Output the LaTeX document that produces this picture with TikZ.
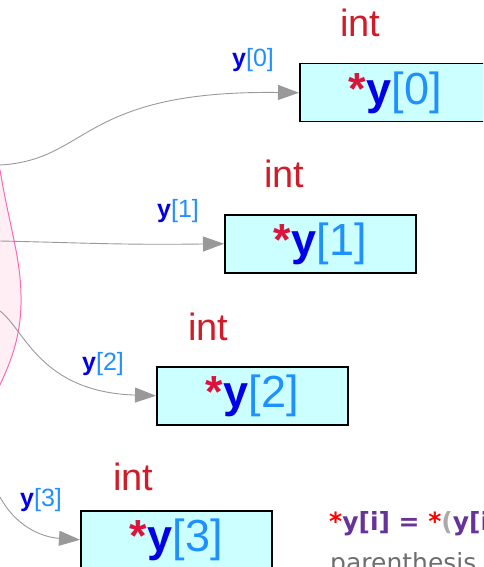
\documentclass[tikz,border=0pt]{standalone}
\usepackage{fontspec}
\setmainfont{Liberation Sans}
\newfontfamily\notefont{DejaVu Sans}
\usepackage{xcolor}
\usetikzlibrary{positioning, arrows.meta}

\definecolor{typered}{RGB}{208,28,40}
\definecolor{starred}{RGB}{220,20,60}
\definecolor{ptrblue}{RGB}{0,0,230}
\definecolor{idxblue}{RGB}{30,144,255}
\definecolor{cellfill}{RGB}{204,255,255}
\definecolor{linkgray}{RGB}{153,153,153}
\definecolor{blobline}{RGB}{255,105,180}
\definecolor{blobfill}{RGB}{255,238,244}
\definecolor{notepurple}{RGB}{102,51,153}
\definecolor{noteparen}{RGB}{170,170,170}
\definecolor{notegray}{RGB}{110,110,110}

\newcommand{\elemname}[1]{\textbf{\textcolor{ptrblue}{y}}\textcolor{idxblue}{[#1]}}
\newcommand{\derefname}[1]{\textbf{\textcolor{starred}{*}}\elemname{#1}}

\begin{document}
\begin{tikzpicture}[
      x=1pt, y=-1pt,
      cell/.style={draw=black, line width=1.5pt, fill=cellfill, anchor=north west, inner sep=0pt,
        minimum width=191pt, minimum height=58pt, font=\fontsize{45}{50}\selectfont},
      typelabel/.style={anchor=base west, inner sep=0pt, text=typered, font=\fontsize{38}{42}\selectfont},
      ptrlabel/.style={anchor=base west, inner sep=0pt, font=\fontsize{25}{28}\selectfont},
      link/.style={draw=linkgray, line width=0.9pt, -{Triangle[length=21pt, width=15pt, fill=linkgray]}}
    ]
    \useasboundingbox (0,0) rectangle (483,567);
    \clip (0,0) rectangle (483,567);

    % pointer array blob on the left
    \fill[blobfill] (-40,150) -- (0,170) .. controls (10,230) and (22,260) .. (21,305)
      .. controls (20,340) and (10,365) .. (-5,395) -- (-40,400) -- cycle;
    \draw[blobline, line width=1pt] (0,170) .. controls (10,230) and (22,260) .. (21,305)
      .. controls (20,340) and (10,365) .. (-5,395);

    % the int cells
    \node[cell] (cell0) at (299,63) {\derefname{0}};
    \node[cell] (cell1) at (224,214) {\derefname{1}};
    \node[cell] (cell2) at (156,366) {\derefname{2}};
    \node[cell] (cell3) at (80,510) {\derefname{3}};

    \node[typelabel] (type0) at (340,37) {int};
    \node[typelabel] (type1) at (264,187) {int};
    \node[typelabel] (type2) at (188,340) {int};
    \node[typelabel] (type3) at (113,490) {int};

    % pointers leaving the array
    \coordinate (src0) at (0,165);
    \coordinate (src1) at (0,241);
    \coordinate (src2) at (0,311);
    \coordinate (src3) at (0,497);

    \draw[link] (src0) .. controls (90,160) and (80,90) .. (cell0.west);
    \draw[link] (src1) .. controls (90,243) and (120,245) .. (cell1.west);
    \draw[link] (src2) .. controls (25,330) and (40,392) .. (cell2.west);
    \draw[link] (src3) .. controls (15,525) and (40,537) .. (cell3.west);

    \node[ptrlabel] (ptr0) at (232,66.5) {\elemname{0}};
    \node[ptrlabel] (ptr1) at (157,217.5) {\elemname{1}};
    \node[ptrlabel] (ptr2) at (82,370) {\elemname{2}};
    \node[ptrlabel] (ptr3) at (20,506) {\elemname{3}};

    % note on the dereference
    \node[anchor=base west, inner sep=0pt, font=\notefont\bfseries\fontsize{25}{28}\selectfont] (note) at (329,530)
      {\textcolor{red}{*}\textcolor{notepurple}{y[i] = }\textcolor{red}{*}\textcolor{noteparen}{(}\textcolor{notepurple}{y[i]}\textcolor{noteparen}{)}};
    \node[anchor=base west, inner sep=0pt, text=notegray, font=\notefont\fontsize{25}{28}\selectfont] (notetwo) at (330,571) {parenthesis};
  \end{tikzpicture}
\end{document}
